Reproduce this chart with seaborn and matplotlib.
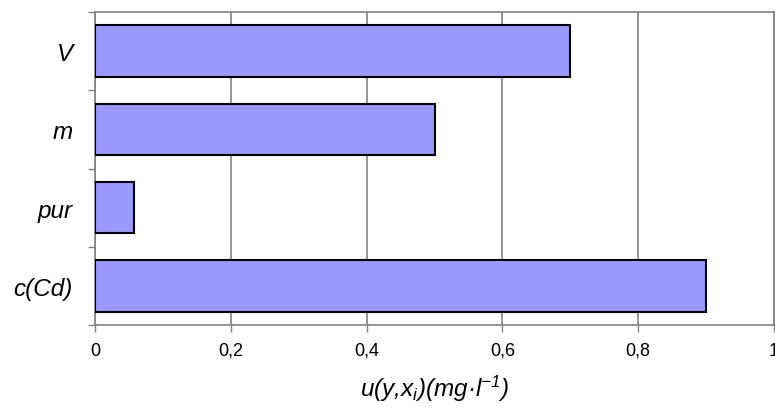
import matplotlib
matplotlib.use("Agg")
import matplotlib.pyplot as plt
import seaborn as sns
import numpy as np
import pandas as pd

# data
categories = ["V", "m", "pur", "c(Cd)"]
values = [0.70, 0.50, 0.057, 0.90]
x_ticks = [0, 0.2, 0.4, 0.6, 0.8, 1.0]
x_tick_labels = ["0", "0,2", "0,4", "0,6", "0,8", "1"]

sns.set_theme(style="white")
plt.rcParams["font.family"] = ["Liberation Sans", "DejaVu Sans"]
plt.rcParams["mathtext.fontset"] = "custom"
plt.rcParams["mathtext.rm"] = "Liberation Sans:italic"
plt.rcParams["mathtext.it"] = "Liberation Sans:italic"
plt.rcParams["mathtext.default"] = "it"

df = pd.DataFrame({"cat": categories, "val": values})

fig = plt.figure(figsize=(7.75, 4.10), dpi=100)
ax = fig.add_axes([95 / 775, 1 - 326 / 410, 679 / 775, 313 / 410])

sns.barplot(data=df, x="val", y="cat", order=categories, orient="h",
            color="#9999FF", saturation=1, edgecolor="black", linewidth=1.5,
            width=0.66, ax=ax, zorder=3)

ax.set_xlim(0, 1)
ax.set_ylim(len(categories) - 0.5, -0.5)

# grid
ax.set_xticks(x_ticks)
ax.set_xticklabels(x_tick_labels, fontsize=13)
ax.xaxis.grid(True, color="#808080", linewidth=1.2, zorder=0)
ax.yaxis.grid(False)
ax.set_axisbelow(True)

# y labels centered, tick marks at category boundaries
ax.set_yticks(np.arange(len(categories)))
ax.set_yticklabels(categories, fontsize=17.5, style="italic")
ax.set_yticks(np.arange(len(categories) + 1) - 0.5, minor=True)
ax.tick_params(axis="y", which="major", length=0, pad=16, labelcolor="black")
ax.tick_params(axis="y", which="minor", length=5, width=1, color="#808080", direction="out", left=True)
ax.tick_params(axis="x", which="major", length=5, width=1, color="#808080", direction="out", bottom=True, pad=7,
               labelcolor="black")

for sp in ax.spines.values():
    sp.set_visible(True)
    sp.set_color("#808080")
    sp.set_linewidth(1.2)

ax.set_ylabel("")
ax.set_xlabel("u(y,x$_i$)(mg·l$^{-1}$)", fontsize=17.5, style="italic", labelpad=10, color="black")

fig.savefig("out.png", dpi=100)
